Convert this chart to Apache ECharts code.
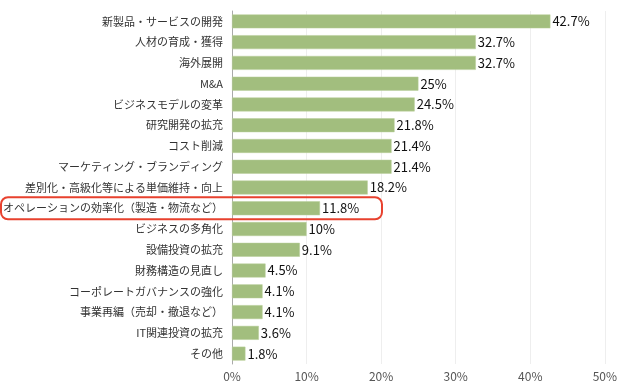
<!DOCTYPE html>
<html><head><meta charset="utf-8">
<script src="https://cdn.jsdelivr.net/npm/echarts@6/dist/echarts.min.js"></script>
<style>html,body{margin:0;padding:0;background:#fff}#c{width:620px;height:382px}</style>
</head><body><div id="c"></div>
<script>
const categories = ['新製品・サービスの開発','人材の育成・獲得','海外展開','M&A','ビジネスモデルの変革','研究開発の拡充','コスト削減','マーケティング・ブランディング','差別化・高級化等による単価維持・向上','オペレーションの効率化（製造・物流など）','ビジネスの多角化','設備投資の拡充','財務構造の見直し','コーポレートガバナンスの強化','事業再編（売却・撤退など）','IT関連投資の拡充','その他'];
const values = [42.7,32.7,32.7,25,24.5,21.8,21.4,21.4,18.2,11.8,10,9.1,4.5,4.1,4.1,3.6,1.8];
const xTicks = [0,10,20,30,40,50];
const highlightIndex = 9;

const font = '"Noto Sans CJK JP","Noto Sans",sans-serif';
const chart = echarts.init(document.getElementById('c'));
chart.setOption({
  animation:false,
  grid:{left:232,right:13,top:11,bottom:16,containLabel:false},
  xAxis:{type:'value',min:xTicks[0],max:xTicks[xTicks.length-1],interval:10,
    axisLine:{show:false},axisTick:{show:false},
    splitLine:{lineStyle:{color:'#eeeeee',width:1}},
    axisLabel:{formatter:'{value}%',color:'#555',fontSize:12,fontFamily:font,margin:6}},
  yAxis:{type:'category',data:categories,inverse:true,
    axisLine:{show:true,lineStyle:{color:'#aaaaaa'}},axisTick:{show:false},
    axisLabel:{color:'#333',fontSize:11,fontFamily:font,margin:9}},
  series:[{type:'bar',data:values,barWidth:'67%',
    itemStyle:{color:'#a2be7e',borderColor:'#b8cf9b',borderWidth:0.5},
    label:{show:true,position:'right',distance:2,formatter:p=>p.value+'%',color:'#111',fontSize:13,fontFamily:font}}]
});
const yc = chart.convertToPixel({yAxisIndex:0},highlightIndex);
const xr = chart.convertToPixel({xAxisIndex:0},values[highlightIndex]);
chart.setOption({graphic:[{type:'rect',shape:{x:1,y:yc-11,width:xr+(383-321)-1,height:22,r:7},
  style:{fill:'none',stroke:'#e8412e',lineWidth:2},z:100}]});
</script></body></html>
